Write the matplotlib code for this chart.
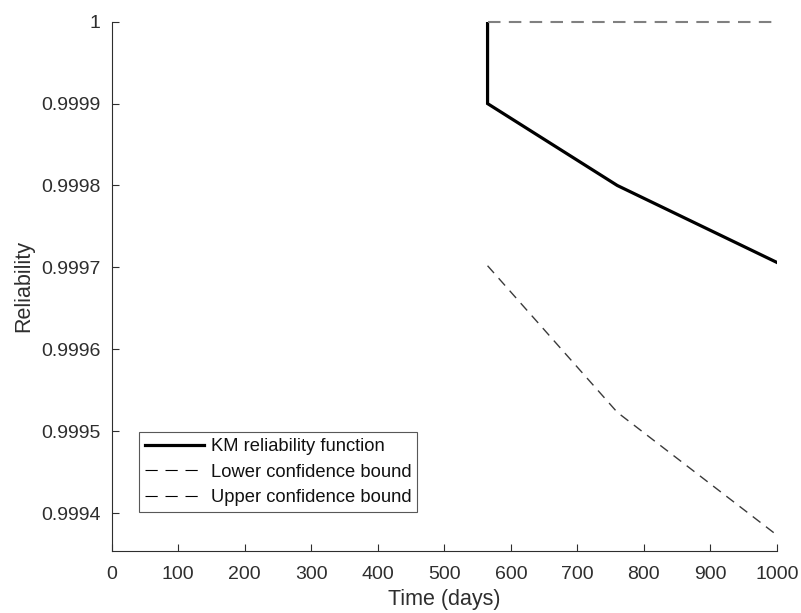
import matplotlib
matplotlib.use("Agg")
import matplotlib.pyplot as plt

plt.rcParams['font.family'] = ['Liberation Sans', 'DejaVu Sans']

# Data
km_time = [565, 565, 760, 1000]
km_rel = [1.0, 0.9999, 0.9998, 0.999706]
lower_time = [565, 760, 1000]
lower_rel = [0.999702, 0.999523, 0.999373]
upper_time = [565, 1000]
upper_rel = [1.0, 1.0]

xticks = [0, 100, 200, 300, 400, 500, 600, 700, 800, 900, 1000]
yticks = [0.9994, 0.9995, 0.9996, 0.9997, 0.9998, 0.9999, 1.0]
ytick_labels = ['0.9994', '0.9995', '0.9996', '0.9997', '0.9998', '0.9999', '1']

fig = plt.figure(figsize=(8.01, 6.13), dpi=100)
ax = fig.add_axes([0.1394, 0.1016, 0.8306, 0.863])

axc = '#2e2e2e'
ax.plot(km_time, km_rel, color='black', lw=2.3, label='KM reliability function', solid_joinstyle='miter')
ax.plot(lower_time, lower_rel, color='#3a3a3a', lw=1.0, dashes=(7, 5), label='Lower confidence bound')
ax.plot(upper_time, upper_rel, color='#808080', lw=1.5, dashes=(6, 4), label='Upper confidence bound', clip_on=False)

ax.set_xlim(0, 1000)
ax.set_ylim(0.999354, 1.0)
ax.set_xticks(xticks)
ax.set_xticklabels([str(t) for t in xticks])
ax.set_yticks(yticks)
ax.set_yticklabels(ytick_labels)

for s in ['top', 'right']:
    ax.spines[s].set_visible(False)
for s in ['left', 'bottom']:
    ax.spines[s].set_color(axc)
    ax.spines[s].set_linewidth(0.8)
ax.tick_params(direction='in', length=5, width=0.8, color=axc, labelcolor=axc, labelsize=14)
ax.tick_params(axis='x', pad=11)
ax.tick_params(axis='y', pad=8)

ax.set_xlabel('Time (days)', fontsize=15.5, color=axc, labelpad=4)
ax.set_ylabel('Reliability', fontsize=15.5, color=axc, labelpad=5)

leg = ax.legend(loc='lower left', bbox_to_anchor=(0.0415, 0.0731), fontsize=13.2,
                frameon=True, fancybox=False, edgecolor=axc, handlelength=3.2,
                handletextpad=0.37, borderpad=0.33, labelspacing=0.46, borderaxespad=0)
leg.get_frame().set_linewidth(0.8)
for t in leg.get_texts():
    t.set_color('#111111')
for h in leg.get_lines()[1:]:
    h.set_color('black')
    h.set_linewidth(0.8)
    h.set_dashes((11, 7))

fig.savefig('out.png', dpi=100)
